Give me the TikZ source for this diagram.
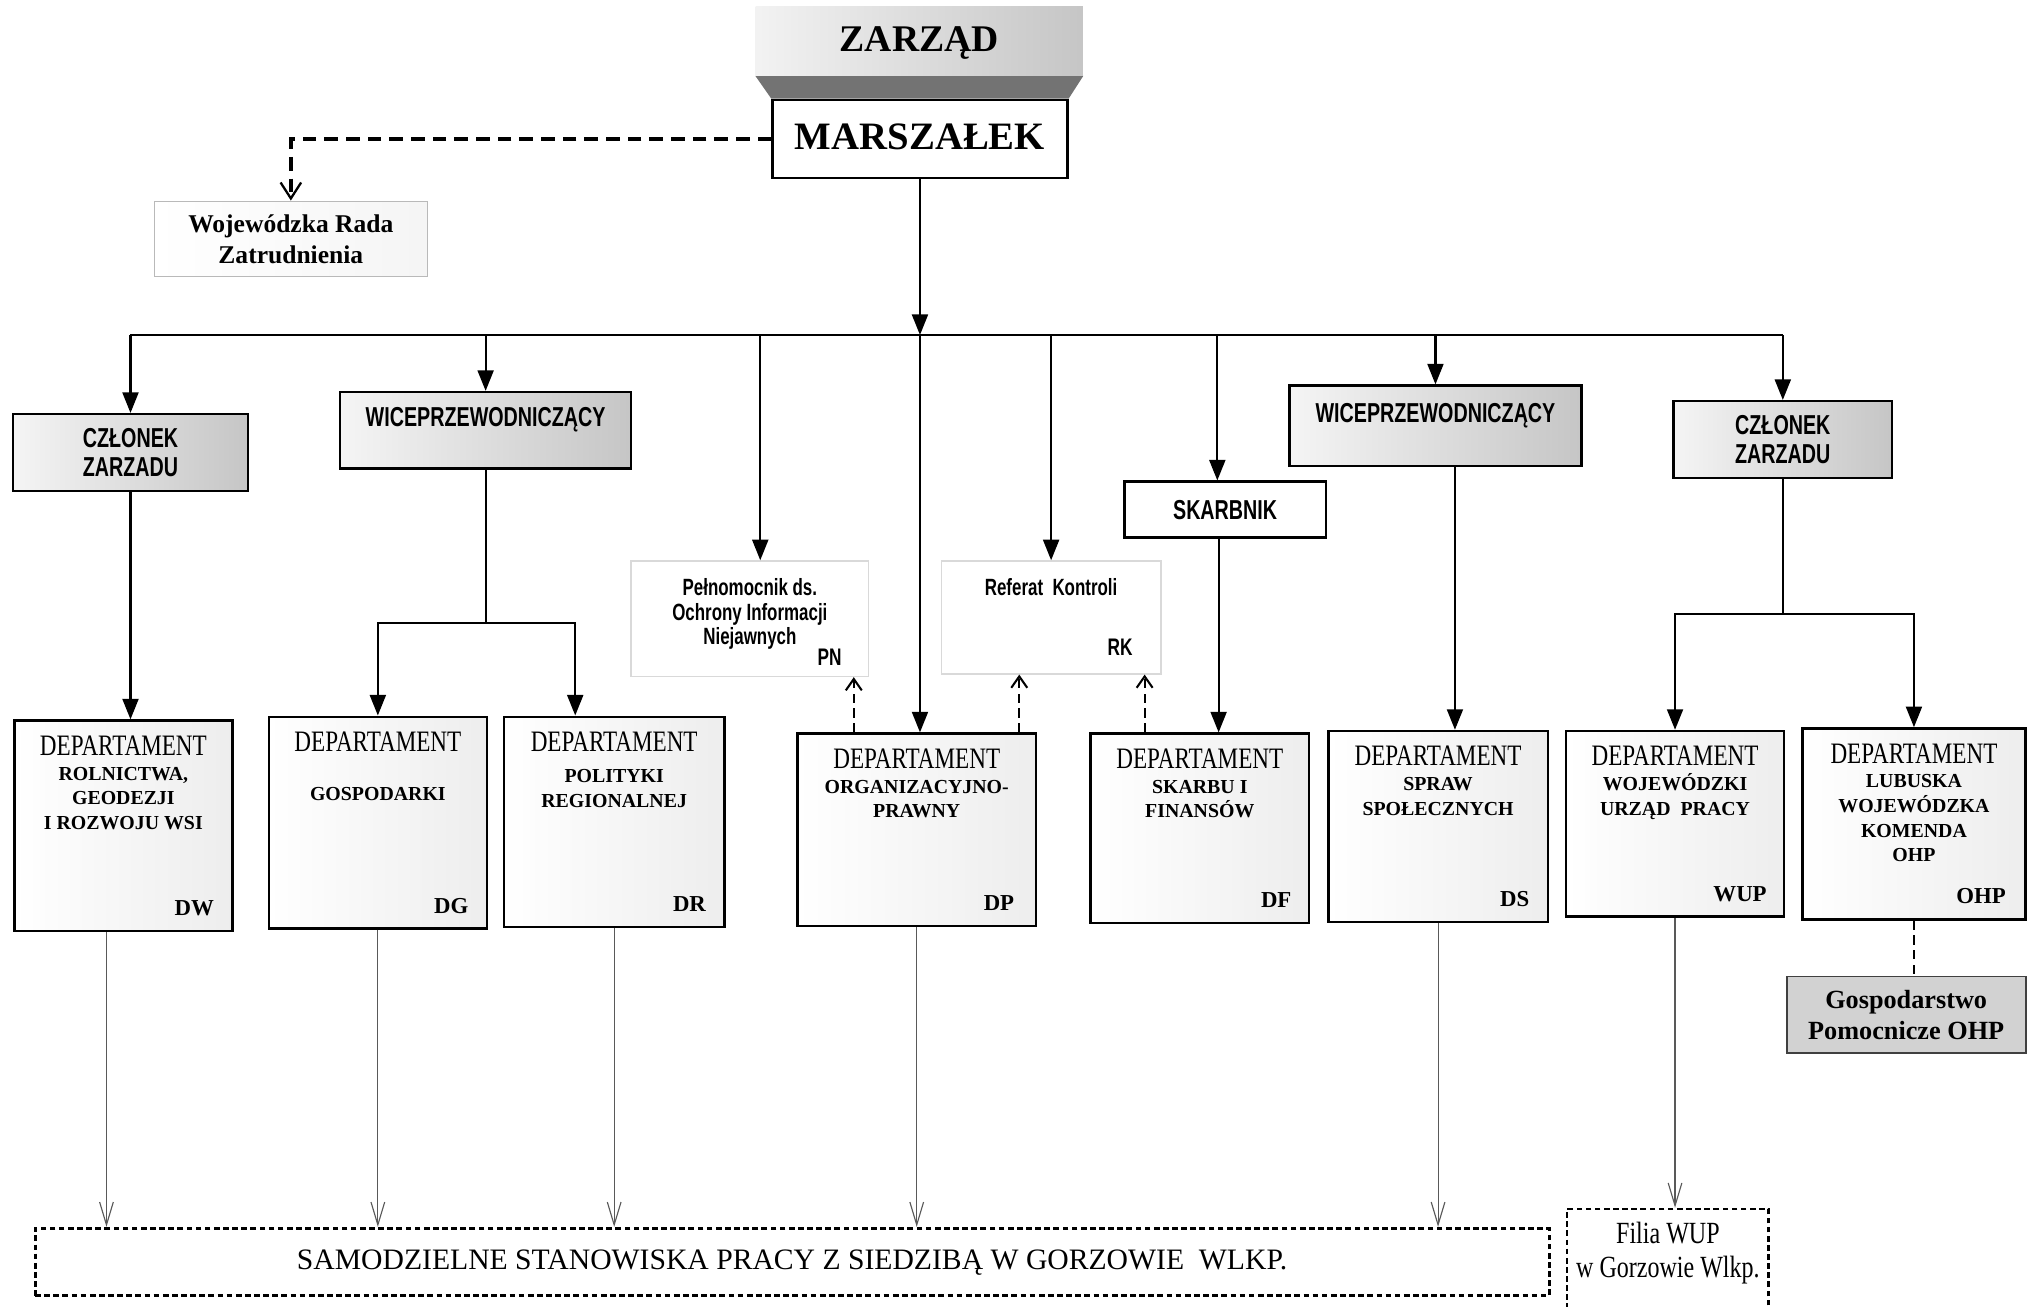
\documentclass[tikz,border=0pt]{standalone}
\usepackage{fontspec}
\setmainfont{Liberation Serif}
\newfontfamily\narrowserif[FakeStretch=0.78]{Liberation Serif}
\newfontfamily\narrowsans[FakeStretch=0.72]{Liberation Sans}
\usepackage{tikz}
\usetikzlibrary{arrows.meta,positioning,fit,calc,backgrounds}

\newcommand{\deptword}{{\mdseries\narrowserif\fontsize{13}{13}\selectfont DEPARTAMENT}}

\begin{document}
\begin{tikzpicture}[
	x=0.02cm, y=-0.02cm,
	box/.style={draw,line width=1.1pt,inner sep=0pt},
	headbox/.style={box,left color=gray!8,right color=gray!45},
	headtext/.style={inner sep=0pt,align=center,font=\narrowsans\bfseries\fontsize{12}{13}\selectfont},
	palebox/.style={draw=gray!30,line width=0.6pt,fill=white,inner sep=0pt},
	deptbox/.style={box,left color=white,right color=gray!14},
	depttitle/.style={inner sep=0pt,align=center,font=\bfseries\fontsize{8.7}{10.8}\selectfont},
	deptcode/.style={inner sep=0pt,font=\bfseries\fontsize{10}{12}\selectfont},
	smalltext/.style={inner sep=0pt,align=center,font=\narrowsans\bfseries\fontsize{10.3}{10.6}\selectfont},
	smallcode/.style={inner sep=0pt,font=\narrowsans\bfseries\fontsize{10.5}{12}\selectfont},
	dotbox/.style={draw,line width=1.3pt,dash pattern=on 2.5pt off 1.5pt,inner sep=0pt},
	conn/.style={line width=0.9pt},
	arr/.style={conn,-{Triangle[width=7pt,length=9pt]}},
	dasharr/.style={conn,dash pattern=on 4pt off 2.5pt,-{Straight Barb[width=7pt,length=5pt]}},
	downarr/.style={black!65,line width=0.5pt,-{Straight Barb[width=6pt,length=10pt]}}
	]
		\useasboundingbox (0,0) rectangle (1568,1006);
		
		\node[fit={(582,5) (834,58)},inner sep=0pt,left color=gray!10,right color=gray!45] (zarzad) {};
		\node[inner sep=0pt,font=\bfseries\fontsize{16.5}{18}\selectfont] (zarzadt) at ([yshift=-1pt]zarzad.center) {ZARZĄD};
		\node[box,fit={(595,77) (822,137)},fill=white] (marsz) {};
		\node[inner sep=0pt,font=\bfseries\fontsize{17}{19}\selectfont] (marszt) at ([yshift=1pt]marsz.center) {MARSZAŁEK};
		\begin{scope}[on background layer]
			\fill[black!55] (zarzad.south west) -- (zarzad.south east) -- (marsz.north east) -- (marsz.north west) -- cycle;
		\end{scope}
		
		\node[box,fit={(119,155) (329,213)},draw=gray!55,line width=0.6pt,left color=white,right color=gray!8] (rada) {};
		\node[inner sep=0pt,align=center,font=\bfseries\fontsize{11.2}{13.6}\selectfont] (radat) at (rada.center) {Wojewódzka Rada\\Zatrudnienia};
		\draw[line width=1.7pt,dash pattern=on 6pt off 3.5pt,-{Straight Barb[width=9pt,length=7pt,line width=1pt]}] (marsz.west) -| (rada.north);
		
		\node[headbox,fit={(10,319) (191,378)}] (czl) {};
		\node[headtext] (czlt) at (czl.center) {CZŁONEK\\ZARZADU};
		\node[headbox,fit={(262,302) (486,361)}] (wl) {};
		\node[headtext,below=7pt of wl.north] (wlt) {WICEPRZEWODNICZĄCY};
		\node[headbox,fit={(993,297) (1218,359)}] (wr) {};
		\node[headtext,below=8pt of wr.north] (wrt) {WICEPRZEWODNICZĄCY};
		\node[headbox,fit={(1289,309) (1457,368)}] (czr) {};
		\node[headtext] (czrt) at (czr.center) {CZŁONEK\\ZARZADU};
		\node[box,fit={(866,371) (1021,414)},fill=white] (skb) {};
		\node[headtext] (skbt) at (skb.center) {SKARBNIK};
		
		\node[palebox,fit={(486,432) (669,521)}] (pn) {};
		\node[smalltext,below=8pt of pn.north] (pnt) {Pełnomocnik ds.\\Ochrony Informacji\\Niejawnych};
		\node[smallcode,above left=5pt and 12pt of pn.south east] (pnc) {PN};
		\node[palebox,fit={(725,432) (894,519)}] (rk) {};
		\node[smalltext,below=8pt of rk.north] (rkt) {Referat\ \ Kontroli};
		\node[smallcode,above left=8pt and 12.5pt of rk.south east] (rkc) {RK};
		
		\node[deptbox,fit={(11,555) (179,717)}] (dw) {};
		\node[depttitle,below=7pt of dw.north] (dwt) {\deptword\\ROLNICTWA,\\GEODEZJI\\I ROZWOJU WSI};
		\node[deptcode,above left=7pt and 8.5pt of dw.south east] (dwc) {DW};
		\node[deptbox,fit={(207,552) (375,715)}] (dg) {};
		\node[depttitle,below=7pt of dg.north] (dgt) {\deptword\\[10.8pt]GOSPODARKI};
		\node[deptcode,above left=7pt and 8.5pt of dg.south east] (dgc) {DG};
		\node[deptbox,fit={(388,552) (558,714)}] (dr) {};
		\node[depttitle,below=7pt of dr.north] (drt) {\deptword\\[3pt]POLITYKI\\REGIONALNEJ};
		\node[deptcode,above left=7pt and 8.5pt of dr.south east] (drc) {DR};
		\node[deptbox,fit={(614,565) (798,713)}] (dp) {};
		\node[depttitle,below=7pt of dp.north] (dpt) {\deptword\\ORGANIZACYJNO-\\PRAWNY};
		\node[deptcode,above left=7pt and 10pt of dp.south east] (dpc) {DP};
		\node[deptbox,fit={(840,565) (1008,711)}] (df) {};
		\node[depttitle,below=7pt of df.north] (dft) {\deptword\\SKARBU I\\FINANSÓW};
		\node[deptcode,above left=7pt and 8pt of df.south east] (dfc) {DF};
		\node[deptbox,fit={(1023,563) (1192,710)}] (ds) {};
		\node[depttitle,below=7pt of ds.north] (dst) {\deptword\\SPRAW\\SPOŁECZNYCH};
		\node[deptcode,above left=7pt and 8.5pt of ds.south east] (dsc) {DS};
		\node[deptbox,fit={(1206,563) (1374,706)}] (wup) {};
		\node[depttitle,below=7pt of wup.north] (wupt) {\deptword\\WOJEWÓDZKI\\URZĄD\ \ PRACY};
		\node[deptcode,above left=7pt and 8pt of wup.south east] (wupc) {WUP};
		\node[deptbox,fit={(1388,561) (1560,708)}] (ohp) {};
		\node[depttitle,below=7pt of ohp.north] (ohpt) {\deptword\\LUBUSKA\\WOJEWÓDZKA\\KOMENDA\\OHP};
		\node[deptcode,above left=7pt and 9pt of ohp.south east] (ohpc) {OHP};
		
		\node[box,fit={(1376,752) (1560,811)},draw=black!75,line width=0.8pt,fill=gray!35] (gosp) {};
		\node[inner sep=0pt,align=center,font=\bfseries\fontsize{11.5}{13.6}\selectfont] (gospt) at (gosp.center) {Gospodarstwo\\Pomocnicze OHP};
		\node[dotbox,fit={(27,946) (1193,998)}] (sam) {};
		\node[inner sep=0pt,font=\fontsize{13}{14}\selectfont] (samt) at (sam.center) {SAMODZIELNE STANOWISKA PRACY Z SIEDZIBĄ W GORZOWIE\ \ WLKP.};
		\node[dotbox,line width=1pt,fit={(1207,931) (1362,1012)}] (filia) {};
		\node[inner sep=0pt,align=center,below=6pt of filia.north,font=\narrowserif\fontsize{13.5}{15}\selectfont] (filiat) {Filia WUP\\w Gorzowie Wlkp.};
		
		\coordinate (bus) at (marsz.south |- 0,258);
		\draw[arr] (marsz.south) -- (bus);
		\draw[conn] (czl.north |- bus) -- (czr.north |- bus);
		\draw[arr] (czl.north |- bus) -- (czl.north);
		\draw[arr] (wl.north |- bus) -- (wl.north);
		\coordinate (pndrop) at ($(pn.north)+(8,0)$);
		\draw[arr] (pndrop |- bus) -- (pndrop);
		\draw[arr] (rk.north |- bus) -- (rk.north);
		\coordinate (skbdrop) at ($(skb.north)+(-6,0)$);
		\draw[arr] (skbdrop |- bus) -- (skbdrop);
		\draw[arr] (wr.north |- bus) -- (wr.north);
		\draw[arr] (czr.north |- bus) -- (czr.north);
		\draw[arr] (bus) -- (bus |- dp.north);
		
		\draw[arr] (czl.south) -- (czl.south |- dw.north);
		\coordinate (wlfork) at (wl.south |- 0,480);
		\coordinate (drin) at ($(dr.north)+(-30,0)$);
		\draw[conn] (wl.south) -- (wlfork);
		\draw[arr] (wlfork) -| (dg.north);
		\draw[arr] (wlfork) -| (drin);
		\coordinate (skbout) at ($(skb.south)+(-5,0)$);
		\draw[arr] (skbout) -- (skbout |- df.north);
		\coordinate (dsin) at ($(wr.south)+(15,0)$);
		\draw[arr] (dsin) -- (dsin |- ds.north);
		\coordinate (czrfork) at (czr.south |- 0,473);
		\draw[conn] (czr.south) -- (czrfork);
		\draw[arr] (czrfork) -| (wup.north);
		\draw[arr] (czrfork) -| (ohp.north);
		
		\coordinate (pnin) at ($(pn.south east)+(-12,0)$);
		\draw[dasharr] (pnin |- dp.north) -- (pnin);
		\coordinate (rkin1) at ($(dp.north east)+(-14,0)$);
		\draw[dasharr] (rkin1) -- (rkin1 |- rk.south);
		\coordinate (rkin2) at ($(rk.south east)+(-13,0)$);
		\draw[dasharr] (rkin2 |- df.north) -- (rkin2);
		\draw[conn,dash pattern=on 4pt off 2.5pt] (ohp.south) -- (ohp.south |- gosp.north);
		
		\coordinate (dwout) at ($(dw.south)+(-13,0)$);
		\draw[downarr] (dwout) -- (dwout |- sam.north);
		\draw[downarr] (dg.south) -- (dg.south |- sam.north);
		\draw[downarr] (dr.south) -- (dr.south |- sam.north);
		\draw[downarr] (dp.south) -- (dp.south |- sam.north);
		\draw[downarr] (ds.south) -- (ds.south |- sam.north);
		\draw[downarr] (wup.south) -- (wup.south |- filia.north);
		
	\end{tikzpicture}
\end{document}
